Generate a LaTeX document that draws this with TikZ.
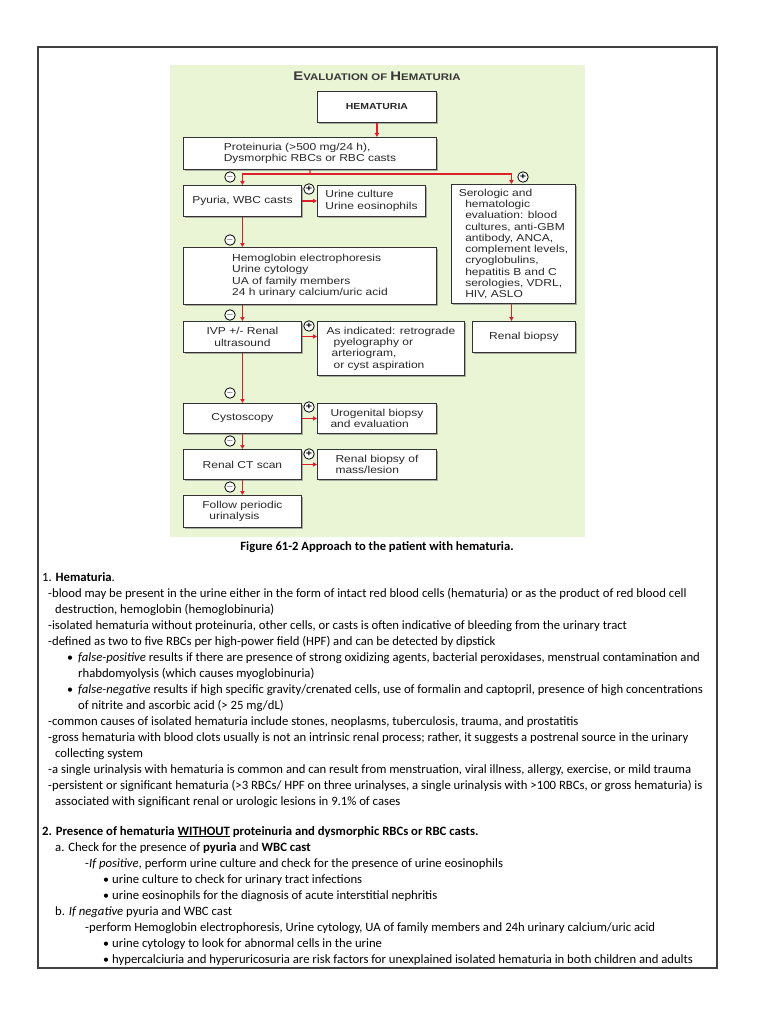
\documentclass[tikz,border=0pt]{standalone}
\usepackage{fontspec}
\setmainfont{Carlito}
\newfontfamily\fcfont[FakeStretch=1.19]{Liberation Sans}
\usetikzlibrary{arrows.meta,shadows}
\definecolor{panelgreen}{RGB}{234,245,214}
\definecolor{arrred}{RGB}{222,32,44}
\definecolor{boxline}{RGB}{50,50,50}
\definecolor{fctext}{RGB}{40,40,40}
\tikzset{
  fcbox/.style={draw=boxline, line width=0.9pt, fill=white, inner sep=0pt,
    font=\fcfont\fontsize{10.1}{11.3}\selectfont, text=fctext, align=left,
    anchor=north west,
    drop shadow={shadow xshift=1.6pt, shadow yshift=-1.6pt, fill=black!45, opacity=0.7}},
  redln/.style={draw=arrred, line width=1.2pt},
  arr/.style={redln, -{Triangle[width=4.2pt,length=4pt]}},
  sgn/.style={circle, draw=black, line width=0.8pt, fill=white, inner sep=0pt,
    minimum size=10.5pt, font=\fcfont\bfseries\fontsize{9}{9}\selectfont},
  tl/.style={anchor=base west, inner sep=0pt, font=\fontsize{12.7}{14}\selectfont},
  bl/.style={anchor=base west, inner sep=0pt, font=\fontsize{12}{14}\selectfont}
}
\begin{document}
\begin{tikzpicture}[x=1pt,y=-1pt]
\useasboundingbox (0,0) rectangle (768,1024);
\fill[white] (0,0) rectangle (768,1024);
% outer frame
\draw[line width=1.1pt, black!75] (38,47) rectangle (717,968);
% green panel
\fill[panelgreen] (170,65) rectangle (585,537);
% title
\node (title) at (377,76) {\fcfont\bfseries\color{black!78}\fontsize{12.5}{12}\selectfont E\fontsize{9.6}{12}\selectfont VALUATION OF \fontsize{12.5}{12}\selectfont H\fontsize{9.6}{12}\selectfont EMATURIA};
% boxes
\node[fcbox, minimum width=119pt, minimum height=31pt, font=\fcfont\bfseries\fontsize{8.8}{10}\selectfont] (hem) at (317,91) {HEMATURIA};
\node[fcbox, minimum width=253pt, minimum height=32pt] (prot) at (183,137) {Proteinuria (>500 mg/24 h),\\Dysmorphic RBCs or RBC casts};
\node[fcbox, minimum width=118pt, minimum height=31pt] (pyu) at (183,185) {Pyuria, WBC casts};
\node[fcbox, minimum width=108pt, minimum height=31pt] (uc) at (317,185) {Urine culture\\Urine eosinophils};
\node[fcbox, minimum width=124pt, minimum height=119pt] (sero) at (451,184) {Serologic and\\\hspace{6.5pt}hematologic\\\hspace{6.5pt}evaluation: blood\\\hspace{6.5pt}cultures, anti-GBM\\\hspace{6.5pt}antibody, ANCA,\\\hspace{6.5pt}complement levels,\\\hspace{6.5pt}cryoglobulins,\\\hspace{6.5pt}hepatitis B and C\\\hspace{6.5pt}serologies, VDRL,\\\hspace{6.5pt}HIV, ASLO};
\node[fcbox, minimum width=253pt, minimum height=57pt] (hemo) at (183,247) {Hemoglobin electrophoresis\\Urine cytology\\UA of family members\\24 h urinary calcium/uric acid};
\node[fcbox, minimum width=118pt, minimum height=31pt, align=center] (ivp) at (183,321) {IVP +/- Renal\\ultrasound};
\node[fcbox, minimum width=147pt, minimum height=54pt] (asind) at (317,321) {As indicated: retrograde\\\hspace{7pt}pyelography or\\\hspace{5pt}arteriogram,\\\hspace{7pt}or cyst aspiration};
\node[fcbox, minimum width=103pt, minimum height=31pt, align=center] (rb) at (472,321) {Renal biopsy};
\node[fcbox, minimum width=118pt, minimum height=30pt, align=center] (cysto) at (183,403) {Cystoscopy};
\node[fcbox, minimum width=119pt, minimum height=30pt] (uro) at (317,403) {Urogenital biopsy\\and evaluation};
\node[fcbox, minimum width=118pt, minimum height=30pt, align=center] (ct) at (183,449) {Renal CT scan};
\node[fcbox, minimum width=119pt, minimum height=30pt] (rbm) at (317,449) {Renal biopsy of\\mass/lesion};
\node[fcbox, minimum width=118pt, minimum height=32pt] (fol) at (183,495) {Follow periodic\\\hspace{7pt}urinalysis};
% connectors
\coordinate (split) at (310,174);
\draw[arr] (hem.south) -- (hem.south |- prot.north);
\draw[redln] (prot.south) -- (split);
\draw[arr] (split) -| (pyu.north);
\draw[arr] (split) -| ([xshift=-2pt]sero.north);
\draw[arr] (pyu.east) -- (uc.west);
\draw[arr] (pyu.south) -- (pyu.south |- hemo.north);
\draw[arr] (pyu.south |- hemo.south) -- (ivp.north);
\draw[arr] ([yshift=0.5pt]ivp.east) -- ([yshift=0.5pt]ivp.east -| asind.west);
\draw[arr] ([xshift=-2pt]sero.south) -- ([xshift=-2pt]sero.south |- rb.north);
\draw[arr] (ivp.south) -- (cysto.north);
\draw[arr] (cysto.east) -- (uro.west);
\draw[arr] (cysto.south) -- (ct.north);
\draw[arr] (ct.east) -- (rbm.west);
\draw[arr] (ct.south) -- (fol.north);
% signs
\node[sgn] (s1) at (230,177) {\raisebox{0.3pt}{$-$}};
\node[sgn] (s2) at (523,177) {+};
\node[sgn] (s3) at (309,189) {+};
\node[sgn] (s4) at (230,240) {\raisebox{0.3pt}{$-$}};
\node[sgn] (s5) at (230,315) {\raisebox{0.3pt}{$-$}};
\node[sgn] (s6) at (309,326) {+};
\node[sgn] (s7) at (230,393) {\raisebox{0.3pt}{$-$}};
\node[sgn] (s8) at (309,407) {+};
\node[sgn] (s9) at (230,441) {\raisebox{0.3pt}{$-$}};
\node[sgn] (s10) at (309,454) {+};
\node[sgn] (s11) at (230,487) {\raisebox{0.3pt}{$-$}};
% caption
\node[font=\bfseries\fontsize{12.6}{14}\selectfont, inner sep=0pt] (cap) at (377,547) {Figure 61-2 Approach to the patient with hematuria.};
% section 1
\node[tl] (l1) at (42,581) {1. \textbf{Hematuria}.};
\node[tl] (l2) at (48,597) {-blood may be present in the urine either in the form of intact red blood cells (hematuria) or as the product of red blood cell};
\node[tl] (l3) at (55,613) {destruction, hemoglobin (hemoglobinuria)};
\node[tl] (l4) at (48,629) {-isolated hematuria without proteinuria, other cells, or casts is often indicative of bleeding from the urinary tract};
\node[tl] (l5) at (48,645) {-defined as two to five RBCs per high-power field (HPF) and can be detected by dipstick};
\node[bl] (b1) at (67,661) {\textbullet};
\node[tl] (l6) at (78,661) {\textit{false-positive} results if there are presence of strong oxidizing agents, bacterial peroxidases, menstrual contamination and};
\node[tl] (l7) at (78,677) {rhabdomyolysis (which causes myoglobinuria)};
\node[bl] (b2) at (67,693) {\textbullet};
\node[tl] (l8) at (78,693) {\textit{false-negative} results if high specific gravity/crenated cells, use of formalin and captopril, presence of high concentrations};
\node[tl] (l9) at (78,709) {of nitrite and ascorbic acid (> 25 mg/dL)};
\node[tl] (l10) at (48,725) {-common causes of isolated hematuria include stones, neoplasms, tuberculosis, trauma, and prostatitis};
\node[tl] (l11) at (48,741) {-gross hematuria with blood clots usually is not an intrinsic renal process; rather, it suggests a postrenal source in the urinary};
\node[tl] (l12) at (55,757) {collecting system};
\node[tl] (l13) at (48,773) {-a single urinalysis with hematuria is common and can result from menstruation, viral illness, allergy, exercise, or mild trauma};
\node[tl] (l14) at (48,789) {-persistent or significant hematuria (>3 RBCs/ HPF on three urinalyses, a single urinalysis with >100 RBCs, or gross hematuria) is};
\node[tl] (l15) at (55,805) {associated with significant renal or urologic lesions in 9.1\% of cases};
% section 2
\node[tl] (m1) at (42,835) {\textbf{2. Presence of hematuria \underline{WITHOUT} proteinuria and dysmorphic RBCs or RBC casts.}};
\node[tl] (m2) at (55,851) {a. Check for the presence of \textbf{pyuria} and \textbf{WBC cast}};
\node[tl] (m3) at (85,867) {-\textit{If positive}, perform urine culture and check for the presence of urine eosinophils};
\node[bl] (b3) at (103,883) {\textbullet};
\node[tl] (m4) at (112,883) {urine culture to check for urinary tract infections};
\node[bl] (b4) at (103,899) {\textbullet};
\node[tl] (m5) at (112,899) {urine eosinophils for the diagnosis of acute interstitial nephritis};
\node[tl] (m6) at (55,915) {b. \textit{If negative} pyuria and WBC cast};
\node[tl] (m7) at (85,931) {-perform Hemoglobin electrophoresis, Urine cytology, UA of family members and 24h urinary calcium/uric acid};
\node[bl] (b5) at (103,947) {\textbullet};
\node[tl] (m8) at (112,947) {urine cytology to look for abnormal cells in the urine};
\node[bl] (b6) at (103,963) {\textbullet};
\node[tl] (m9) at (112,963) {hypercalciuria and hyperuricosuria are risk factors for unexplained isolated hematuria in both children and adults};
\end{tikzpicture}
\end{document}
